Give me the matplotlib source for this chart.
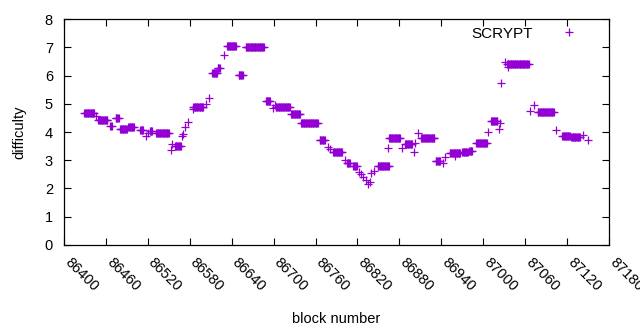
import numpy as np
import matplotlib
matplotlib.use('Agg')
import matplotlib.pyplot as plt

plt.rcParams['font.family'] = ['Liberation Sans', 'DejaVu Sans']

# runs of blocks with the same difficulty: first block, last block, difficulty
run_first = [86429, 86446, 86449, 86466, 86474, 86480, 86492, 86509, 86517, 86520,
             86523, 86532, 86553, 86555, 86559, 86569, 86570, 86573, 86577, 86584,
             86585, 86603, 86607, 86612, 86620, 86629, 86633, 86650, 86660, 86689,
             86699, 86702, 86703, 86725, 86739, 86766, 86778, 86781, 86785, 86802,
             86805, 86814, 86822, 86825, 86828, 86832, 86835, 86838, 86839, 86844,
             86849, 86864, 86865, 86884, 86888, 86901, 86902, 86907, 86911, 86932,
             86942, 86945, 86952, 86960, 86970, 86980, 86990, 87007, 87011, 87022,
             87024, 87025, 87031, 87034, 87035, 87067, 87073, 87078, 87104, 87113,
             87126, 87143, 87150]
run_last = [86443, 86446, 86462, 86468, 86478, 86490, 86500, 86513, 86517, 86520,
            86526, 86550, 86553, 86555, 86567, 86569, 86570, 86573, 86577, 86584,
            86599, 86603, 86607, 86619, 86623, 86629, 86646, 86656, 86686, 86695,
            86699, 86702, 86723, 86738, 86763, 86773, 86778, 86781, 86798, 86802,
            86809, 86819, 86822, 86825, 86828, 86832, 86835, 86838, 86839, 86844,
            86865, 86864, 86881, 86884, 86898, 86901, 86902, 86907, 86930, 86938,
            86942, 86945, 86967, 86960, 86978, 86984, 87005, 87007, 87020, 87022,
            87024, 87025, 87031, 87065, 87035, 87067, 87073, 87101, 87104, 87124,
            87138, 87143, 87150]
run_diff = [4.68, 4.57, 4.42, 4.21, 4.50, 4.12, 4.18, 4.07, 3.85, 3.95,
            4.05, 3.96, 3.36, 3.57, 3.51, 3.86, 3.92, 4.18, 4.35, 4.80,
            4.88, 5.00, 5.20, 6.08, 6.25, 6.72, 7.04, 6.02, 7.00, 5.10,
            4.84, 4.97, 4.88, 4.63, 4.31, 3.72, 3.47, 3.40, 3.30, 3.00,
            2.90, 2.80, 2.60, 2.50, 2.40, 2.30, 2.15, 2.22, 2.54, 2.62,
            2.80, 3.43, 3.78, 3.43, 3.57, 3.30, 3.60, 3.95, 3.78, 2.98,
            2.90, 3.10, 3.25, 3.15, 3.30, 3.33, 3.62, 4.00, 4.39, 4.12,
            4.33, 5.72, 6.49, 6.41, 6.30, 4.74, 4.96, 4.70, 4.07, 3.86,
            3.84, 3.90, 3.72]

blocks = []
diffs = []
for b0, b1, d in zip(run_first, run_last, run_diff):
    for b in range(b0, b1 + 1):
        blocks.append(b)
        diffs.append(d)
blocks = np.array(blocks)
diffs = np.array(diffs)

fig = plt.figure(figsize=(6.4, 3.3), dpi=100)
ax = fig.add_axes([0.1, 0.2576, 0.8516, 0.6848])

ax.plot(blocks, diffs, linestyle='none', marker='+', markersize=5.5,
        markeredgewidth=0.9, color='#9400D3', label='SCRYPT')

ax.set_xlim(86400, 87180)
ax.set_ylim(0, 8)
ax.set_xticks(np.arange(86400, 87181, 60))
ax.set_yticks(np.arange(0, 9, 1))
ax.tick_params(direction='in', top=True, right=True, length=5, width=0.8,
               labelsize=10.5)
ax.tick_params(axis='x', pad=13)
ax.tick_params(axis='y', pad=8)
for lab in ax.get_xticklabels():
    lab.set_rotation(-45)
    lab.set_ha('left')
    lab.set_va('baseline')
    lab.set_rotation_mode('anchor')
for s in ax.spines.values():
    s.set_linewidth(0.9)

ax.set_xlabel('block number', fontsize=10.5, labelpad=13)
ax.set_ylabel('difficulty', fontsize=10.5, labelpad=13)

ax.legend(loc='upper right', frameon=False, markerfirst=False, fontsize=11,
          handlelength=2.5, borderaxespad=0.1, handletextpad=1.1,
          bbox_to_anchor=(0.976, 1.0))

fig.savefig('out.png', dpi=100)
